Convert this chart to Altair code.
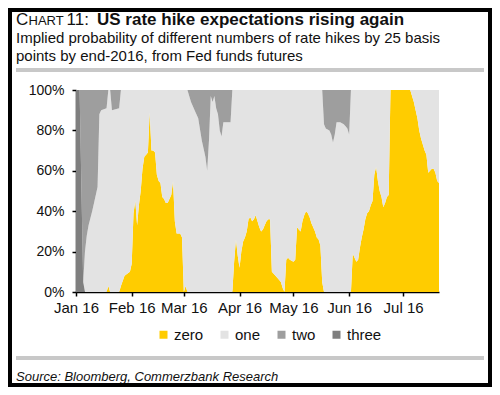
import altair as alt
import pandas as pd

FONT = "Liberation Sans"

dates = [
    "2016-01-01", "2016-01-03", "2016-01-05", "2016-01-06", "2016-01-07", "2016-01-08", "2016-01-10",
    "2016-01-13", "2016-01-14", "2016-01-15", "2016-01-18", "2016-01-19", "2016-01-20", "2016-01-21",
    "2016-01-25", "2016-01-26", "2016-01-28", "2016-01-31",
    "2016-02-01", "2016-02-02", "2016-02-03", "2016-02-04", "2016-02-05", "2016-02-06", "2016-02-07",
    "2016-02-08", "2016-02-09", "2016-02-10", "2016-02-11", "2016-02-12", "2016-02-13", "2016-02-14",
    "2016-02-15", "2016-02-16", "2016-02-17", "2016-02-18", "2016-02-19", "2016-02-20", "2016-02-21",
    "2016-02-22", "2016-02-23", "2016-02-24", "2016-02-25", "2016-02-26", "2016-02-28", "2016-02-29",
    "2016-03-01", "2016-03-02", "2016-03-03", "2016-03-04", "2016-03-05", "2016-03-07", "2016-03-09",
    "2016-03-11", "2016-03-13", "2016-03-14", "2016-03-15", "2016-03-16", "2016-03-17", "2016-03-18",
    "2016-03-19", "2016-03-20", "2016-03-21", "2016-03-22", "2016-03-23", "2016-03-27", "2016-03-28",
    "2016-03-29", "2016-03-30", "2016-03-31",
    "2016-04-01", "2016-04-02", "2016-04-03", "2016-04-04", "2016-04-05", "2016-04-06", "2016-04-07",
    "2016-04-08", "2016-04-09", "2016-04-10", "2016-04-11", "2016-04-12", "2016-04-13", "2016-04-14",
    "2016-04-15", "2016-04-16", "2016-04-17", "2016-04-18", "2016-04-19", "2016-04-20", "2016-04-22",
    "2016-04-24", "2016-04-25", "2016-04-26", "2016-04-27", "2016-04-28", "2016-04-29",
    "2016-05-01", "2016-05-02", "2016-05-03", "2016-05-04", "2016-05-05", "2016-05-06", "2016-05-07",
    "2016-05-08", "2016-05-09", "2016-05-10", "2016-05-11", "2016-05-12", "2016-05-13", "2016-05-14",
    "2016-05-15", "2016-05-16", "2016-05-17", "2016-05-18", "2016-05-19", "2016-05-21", "2016-05-22",
    "2016-05-23", "2016-05-24", "2016-05-25", "2016-05-27", "2016-05-29", "2016-05-30", "2016-05-31",
    "2016-06-01", "2016-06-02", "2016-06-03", "2016-06-04", "2016-06-05", "2016-06-06", "2016-06-07",
    "2016-06-08", "2016-06-09", "2016-06-10", "2016-06-11", "2016-06-12", "2016-06-13", "2016-06-14",
    "2016-06-15", "2016-06-16", "2016-06-17", "2016-06-18", "2016-06-19", "2016-06-20", "2016-06-21",
    "2016-06-22", "2016-06-23", "2016-06-24",
    "2016-07-05", "2016-07-06", "2016-07-07", "2016-07-08", "2016-07-09", "2016-07-10", "2016-07-11",
    "2016-07-12", "2016-07-13", "2016-07-14", "2016-07-15", "2016-07-16", "2016-07-17", "2016-07-18",
    "2016-07-19", "2016-07-20", "2016-07-21",
]

zero = [
    0, 0, 0, 0, 0, 0, 0, 0, 0, 0, 0, 3, 0, 0, 0, 3, 8, 10,
    14, 39, 45, 33, 43, 50, 61, 67, 68, 69, 89, 70, 70, 69, 58, 55, 54, 47, 46, 44, 44, 46, 48, 55, 35, 29, 29, 27,
    0, 3, 0, 0, 0, 0, 0, 0, 0, 0, 0, 0, 0, 0, 0, 0, 0, 0, 0, 0, 0, 15, 26, 18,
    12, 20, 25, 27, 30, 36, 37, 35, 36, 38, 35, 32, 30, 31, 33, 35, 36, 36, 10, 9, 7, 5, 2, 0, 16, 17, 16,
    15, 16, 32, 31, 30, 35, 38, 40, 39, 37, 34, 32, 30, 27, 26, 23, 5, 0, 0, 0, 0, 0, 0, 0, 0, 0, 0, 0,
    0, 0, 19, 17, 15, 16, 22, 27, 31, 36, 39, 40, 43, 45, 58, 62, 55, 50, 47, 42, 44, 47, 48, 100,
    100, 97, 94, 90, 86, 80, 76, 73, 70, 68, 59, 60, 61, 61, 59, 55, 54,
]

one = [
    0, 0, 0, 20, 28, 33, 40, 52, 88, 90, 91, 97, 100, 90, 91, 97, 92, 90,
    86, 61, 55, 67, 57, 50, 39, 33, 32, 31, 11, 30, 30, 31, 42, 45, 46, 53, 54, 56, 56, 54, 52, 45, 65, 71, 71, 73,
    100, 97, 100, 97, 94, 90, 86, 75, 67, 60, 75, 97, 94, 97, 91, 88, 80, 77, 84, 84, 100, 85, 74, 82,
    88, 80, 75, 73, 70, 64, 63, 65, 64, 62, 65, 68, 70, 69, 67, 65, 64, 64, 90, 91, 93, 95, 98, 100, 84, 83, 84,
    85, 84, 68, 69, 70, 65, 62, 60, 61, 63, 66, 68, 70, 73, 74, 77, 95, 83, 81, 80, 78, 74, 78, 84, 84, 83, 82, 81,
    78, 100, 81, 83, 85, 84, 78, 73, 69, 64, 61, 60, 57, 55, 42, 38, 45, 50, 53, 58, 56, 53, 52, 0,
    0, 3, 6, 10, 14, 20, 24, 27, 30, 32, 41, 40, 39, 39, 41, 45, 46,
]

two = [
    0, 0, 95, 80, 72, 67, 60, 48, 12, 10, 9, 0, 0, 10, 9, 0, 0, 0,
    0, 0, 0, 0, 0, 0, 0, 0, 0, 0, 0, 0, 0, 0, 0, 0, 0, 0, 0, 0, 0, 0, 0, 0, 0, 0, 0, 0,
    0, 0, 0, 3, 6, 10, 14, 25, 33, 40, 25, 3, 6, 3, 9, 12, 20, 23, 16, 16, 0, 0, 0, 0,
    0, 0, 0, 0, 0, 0, 0, 0, 0, 0, 0, 0, 0, 0, 0, 0, 0, 0, 0, 0, 0, 0, 0, 0, 0, 0, 0,
    0, 0, 0, 0, 0, 0, 0, 0, 0, 0, 0, 0, 0, 0, 0, 0, 0, 17, 19, 20, 22, 26, 22, 16, 16, 17, 18, 19,
    22, 0, 0, 0, 0, 0, 0, 0, 0, 0, 0, 0, 0, 0, 0, 0, 0, 0, 0, 0, 0, 0, 0, 0,
    0, 0, 0, 0, 0, 0, 0, 0, 0, 0, 0, 0, 0, 0, 0, 0, 0,
]

three = [
    100, 100, 5, 0, 0, 0, 0, 0, 0, 0, 0, 0, 0, 0, 0, 0, 0, 0,
    0, 0, 0, 0, 0, 0, 0, 0, 0, 0, 0, 0, 0, 0, 0, 0, 0, 0, 0, 0, 0, 0, 0, 0, 0, 0, 0, 0,
    0, 0, 0, 0, 0, 0, 0, 0, 0, 0, 0, 0, 0, 0, 0, 0, 0, 0, 0, 0, 0, 0, 0, 0,
    0, 0, 0, 0, 0, 0, 0, 0, 0, 0, 0, 0, 0, 0, 0, 0, 0, 0, 0, 0, 0, 0, 0, 0, 0, 0, 0,
    0, 0, 0, 0, 0, 0, 0, 0, 0, 0, 0, 0, 0, 0, 0, 0, 0, 0, 0, 0, 0, 0, 0, 0, 0, 0, 0, 0,
    0, 0, 0, 0, 0, 0, 0, 0, 0, 0, 0, 0, 0, 0, 0, 0, 0, 0, 0, 0, 0, 0, 0, 0,
    0, 0, 0, 0, 0, 0, 0, 0, 0, 0, 0, 0, 0, 0, 0, 0, 0,
]

series = ["zero", "one", "two", "three"]
colors = ["#FFCC00", "#E3E3E3", "#9E9E9E", "#7F7F7F"]
month_ticks = [1, 2, 3, 4, 5, 6, 7]
y_ticks = [0, 20, 40, 60, 80, 100]

title_small_caps = ["C", "HART", "11:"]
title_bold = "US rate hike expectations rising again"
subtitle = [
    "Implied probability of different numbers of rate hikes by 25 basis",
    "points by end-2016, from Fed funds futures",
]
source = "Source: Bloomberg, Commerzbank Research"

# stacking order (bottom to top)
stack_rank = {"three": 0, "zero": 1, "one": 2, "two": 3}

rows = []
values = {"zero": zero, "one": one, "two": two, "three": three}
for i, d in enumerate(dates):
    for name in series:
        rows.append({"date": d + "T00:00:00", "series": name,
                     "value": values[name][i], "rank": stack_rank[name]})
df = pd.DataFrame(rows)

one_row = pd.DataFrame({"k": [0]})

# plot origin in page coords
OX, OY = 76, 90


def txt(s, px, py, size, weight="normal", style="normal"):
    return alt.Chart(one_row).mark_text(
        text=s, align="left", baseline="alphabetic", fontSize=size,
        fontWeight=weight, fontStyle=style, font=FONT, color="#111111"
    ).encode(x=alt.value(px - OX), y=alt.value(py - OY))


def bar(px1, px2, py1, py2, color):
    return alt.Chart(one_row).mark_rect(color=color).encode(
        x=alt.value(px1 - OX), x2=alt.value(px2 - OX),
        y=alt.value(py1 - OY), y2=alt.value(py2 - OY))


area = alt.Chart(df).mark_area(interpolate="linear").encode(
    x=alt.X("date:T",
            scale=alt.Scale(domain=[alt.DateTime(year=2016, month=1, date=1),
                                    alt.DateTime(year=2016, month=7, date=21)]),
            axis=alt.Axis(title=None, format="%b %y",
                          values=[alt.DateTime(year=2016, month=m, date=1) for m in month_ticks],
                          labelFlush=False, grid=False, domainColor="black", domainWidth=1.5,
                          tickColor="black", tickWidth=1.5, tickSize=4, labelFontSize=15,
                          labelPadding=4, labelColor="#111111", labelFont=FONT)),
    y=alt.Y("value:Q", stack="zero",
            scale=alt.Scale(domain=[0, 100], nice=False),
            axis=alt.Axis(title=None, values=y_ticks, labelExpr="datum.value + '%'",
                          labelFlush=False, grid=False, domainColor="black", domainWidth=1.5,
                          tickColor="black", tickWidth=1.5, tickSize=4, labelFontSize=14,
                          labelPadding=8, labelColor="#111111", labelFont=FONT)),
    color=alt.Color("series:N",
                    scale=alt.Scale(domain=series, range=colors),
                    legend=alt.Legend(title=None, orient="none", legendX=80, legendY=237,
                                      direction="horizontal", columns=4,
                                      symbolType="square", symbolSize=64, symbolStrokeWidth=0,
                                      labelFontSize=15, labelFont=FONT, labelColor="#111111",
                                      labelOffset=3, columnPadding=13)),
    order=alt.Order("rank:Q", sort="ascending"),
)

frame = alt.Chart(one_row).mark_rect(fillOpacity=0, stroke="black", strokeWidth=8).encode(
    x=alt.value(-68), x2=alt.value(416), y=alt.value(-82), y2=alt.value(297))

layers = [
    area,
    txt(title_small_caps[0], 16, 25, 17),
    txt(title_small_caps[1], 28.5, 25, 13),
    txt(title_small_caps[2], 66.5, 25, 17),
    txt(title_bold, 97, 25, 17, weight="bold"),
    txt(subtitle[0], 16, 42.5, 15),
    txt(subtitle[1], 16, 60.5, 15),
    bar(16, 484, 68, 72, "#C8C8C8"),
    bar(16, 484, 356, 360, "#C8C8C8"),
    txt(source, 16, 380.5, 13, style="italic"),
    frame,
]

chart = alt.layer(*layers).properties(
    width=363, height=202,
    autosize=alt.AutoSizeParams(type="none"),
    padding={"left": 68, "top": 82, "right": 53, "bottom": 95},
    background="white",
).configure_view(stroke=None)

chart.save("out.html", embed_options={"renderer": "svg", "actions": False})
